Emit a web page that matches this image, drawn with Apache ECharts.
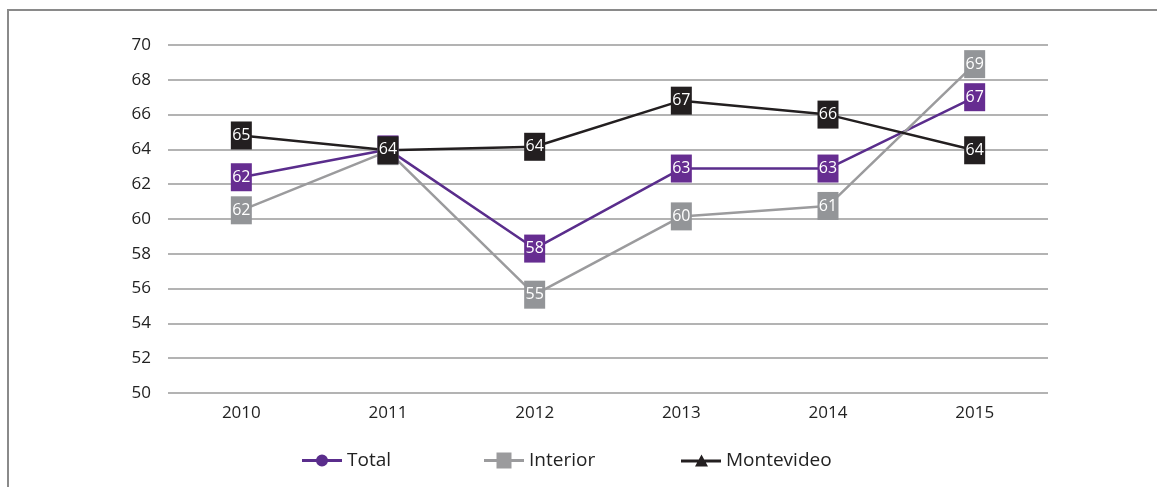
<!DOCTYPE html>
<html>
<head>
<meta charset="utf-8">
<script src="https://cdn.jsdelivr.net/npm/echarts@6/dist/echarts.min.js"></script>
<style>
html,body{margin:0;padding:0;background:#fff;}
#frame{position:absolute;left:7px;top:9px;width:1160px;height:490px;border-left:2px solid #8a8a8a;border-top:2px solid #8a8a8a;box-sizing:border-box;}
#chart{position:absolute;left:0;top:0;width:1157px;height:487px;}
</style>
</head>
<body>
<div id="frame"></div>
<div id="chart"></div>
<script>
const categories = ['2010', '2011', '2012', '2013', '2014', '2015'];
const yTicks = [50, 52, 54, 56, 58, 60, 62, 64, 66, 68, 70];
const total = [62.4, 64.0, 58.3, 62.9, 62.9, 67.0];
const totalLabels = ['62', '64', '58', '63', '63', '67'];
const interior = [60.5, 63.9, 55.65, 60.15, 60.75, 68.9];
const interiorLabels = ['62', '64', '55', '60', '61', '69'];
const montevideo = [64.8, 63.95, 64.15, 66.8, 66.0, 63.95];
const montevideoLabels = ['65', '64', '64', '67', '66', '64'];

const FONT = '"Open Sans", "DejaVu Sans", sans-serif';

// legend glyphs: a line segment with a marker in the middle
const ICON_TOTAL = 'path://M0,4.5H40V7.5H0Z M14,6a6,6 0 1,1 12,0a6,6 0 1,1 -12,0Z';
const ICON_INTERIOR = 'path://M0,6.5H40V9.5H0Z M12.5,0H27.5V16H12.5Z';
const ICON_MONTEVIDEO = 'path://M0,5H40V8H0Z M20.5,0L27,12H14Z';

function mkSeries(name, values, labels, color, boxColor) {
  return {
    name: name,
    type: 'line',
    data: values,
    symbol: 'rect',
    symbolSize: [21, 28],
    itemStyle: { color: boxColor },
    lineStyle: { color: color, width: 2.5 },
    label: {
      show: true,
      position: 'inside',
      color: '#ffffff',
      fontSize: 16,
      fontFamily: FONT,
      formatter: function (p) { return labels[p.dataIndex]; }
    },
    labelLayout: { hideOverlap: true },
    emphasis: { disabled: true },
    animation: false
  };
}

function mkLegend(name, icon, left, h, color) {
  return {
    data: [{ name: name, icon: icon, itemStyle: { color: color } }],
    left: left,
    top: 446,
    itemWidth: 40,
    itemHeight: h,
    itemGap: 0,
    symbolKeepAspect: false,
    textStyle: { fontSize: 19, color: '#222', fontFamily: FONT },
    selectedMode: false
  };
}

const chart = echarts.init(document.getElementById('chart'));
chart.setOption({
  backgroundColor: 'transparent',
  grid: { left: 168, right: 109, top: 45, bottom: 94, containLabel: false },
  xAxis: {
    type: 'category',
    data: categories,
    boundaryGap: true,
    axisLine: { show: false },
    axisTick: { show: false },
    axisLabel: { color: '#222', fontSize: 17, fontFamily: FONT, margin: 12 }
  },
  yAxis: {
    type: 'value',
    min: yTicks[0],
    max: yTicks[yTicks.length - 1],
    interval: yTicks[1] - yTicks[0],
    axisLine: { show: false },
    axisTick: { show: false },
    axisLabel: { color: '#222', fontSize: 17, fontFamily: FONT, margin: 17 },
    splitLine: { lineStyle: { color: '#9a9a9a', width: 1.5 } }
  },
  legend: [
    mkLegend('Total', ICON_TOTAL, 297, 12, '#5a2d8c'),
    mkLegend('Interior', ICON_INTERIOR, 479, 16, '#9b9b9d'),
    mkLegend('Montevideo', ICON_MONTEVIDEO, 676, 12, '#231f20')
  ],
  series: [
    mkSeries('Total', total, totalLabels, '#5a2d8c', '#662d91'),
    mkSeries('Interior', interior, interiorLabels, '#9b9b9d', '#939598'),
    mkSeries('Montevideo', montevideo, montevideoLabels, '#231f20', '#231f20')
  ]
});
</script>
</body>
</html>
